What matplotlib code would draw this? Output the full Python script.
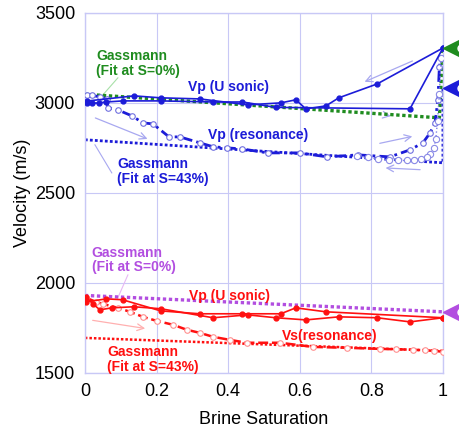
import matplotlib
matplotlib.use("Agg")
import matplotlib.pyplot as plt

plt.rcParams['font.family'] = ['Liberation Sans', 'DejaVu Sans']

BLUE = '#1c1cd8'
GREEN = '#1f8c1f'
PURPLE = '#b24ee0'
RED = '#ff1010'
GRID = '#c8c8f6'

# --- P-wave, ultrasonic (two branches)
vp_us_up_s = [0.005, 0.02, 0.04, 0.06, 0.106, 0.212, 0.358, 0.44, 0.533, 0.908, 1.0]
vp_us_up_v = [3000, 2998, 3000, 3005, 3011, 3011, 3005, 3005, 2975, 2967, 3305]
vp_us_dn_s = [1.0, 0.816, 0.709, 0.673, 0.617, 0.589, 0.547, 0.455, 0.321, 0.212, 0.137, 0.005]
vp_us_dn_v = [3305, 3105, 3028, 2983, 2967, 3017, 3000, 2989, 3022, 3028, 3039, 3010]

# --- P-wave, resonance
vp_res_up_s = [0.006, 0.02, 0.042, 0.061, 0.064, 0.092, 0.131, 0.162, 0.19, 0.235, 0.265,
               0.321, 0.358, 0.397, 0.439, 0.511, 0.6, 0.676, 0.763, 0.852, 0.908,
               0.944, 0.964, 0.978, 0.986, 0.99, 0.995]
vp_res_up_v = [3045, 3042, 3033, 3022, 2972, 2961, 2928, 2889, 2883, 2811, 2811,
               2778, 2756, 2750, 2744, 2722, 2722, 2700, 2711, 2700, 2739,
               2778, 2833, 2889, 3017, 3200, 3250]
vp_res_dn_s = [0.995, 0.99, 0.985, 0.98, 0.975, 0.965, 0.955, 0.94, 0.92, 0.9, 0.875,
               0.85, 0.82, 0.79, 0.76]
vp_res_dn_v = [3250, 3050, 2900, 2800, 2750, 2715, 2700, 2690, 2683, 2680, 2680,
               2682, 2688, 2697, 2706]

# --- Gassmann P-wave
gas_vp0_s = [0.0, 0.99, 1.0]
gas_vp0_v = [3048, 2917, 3305]
gas_vp43_s = [0.0, 1.0, 1.0]
gas_vp43_v = [2795, 2667, 3083]

# --- lower set (red)
red_us_up_s = [0.003, 0.022, 0.042, 0.075, 0.137, 0.212, 0.358, 0.455, 0.533, 0.617,
               0.709, 0.816, 0.908, 1.0]
red_us_up_v = [1922, 1883, 1850, 1861, 1867, 1856, 1806, 1822, 1806, 1794,
               1811, 1806, 1783, 1806]
red_us_dn_s = [1.0, 0.673, 0.589, 0.547, 0.439, 0.321, 0.212, 0.105, 0.06, 0.003]
red_us_dn_v = [1806, 1839, 1861, 1828, 1828, 1828, 1844, 1906, 1911, 1894]

vs_res_s = [0.003, 0.03, 0.05, 0.092, 0.126, 0.162, 0.2, 0.246, 0.285, 0.321, 0.358,
            0.405, 0.452, 0.545, 0.637, 0.732, 0.824, 0.87, 0.916, 0.95, 0.975, 1.0]
vs_res_v = [1917, 1895, 1883, 1861, 1839, 1811, 1789, 1767, 1739, 1722, 1700,
            1683, 1667, 1667, 1644, 1639, 1633, 1631, 1628, 1625, 1622, 1617]

gas_vs0_s = [0.0, 1.0]
gas_vs0_v = [1930, 1839]
gas_vs43_s = [0.0, 1.0]
gas_vs43_v = [1694, 1622]

fig = plt.figure(figsize=(4.59, 4.30), dpi=100)
ax = fig.add_axes([0.185, 0.133, 0.780, 0.837])

# Gassmann lines (thick dotted)
ax.plot(gas_vp0_s, gas_vp0_v, color=GREEN, lw=2.4, ls=(0, (1, 0.8)), zorder=2)
ax.plot(gas_vp43_s, gas_vp43_v, color=BLUE, lw=2.0, ls=(0, (1, 0.8)), zorder=2)
ax.plot(gas_vs0_s, gas_vs0_v, color=PURPLE, lw=2.4, ls=(0, (1, 0.8)), zorder=2)
ax.plot(gas_vs43_s, gas_vs43_v, color=RED, lw=1.8, ls=(0, (1, 0.8)), zorder=2)

# ultrasonic
for s, v in [(vp_us_up_s, vp_us_up_v), (vp_us_dn_s, vp_us_dn_v)]:
    ax.plot(s, v, color=BLUE, lw=1.2, marker='o', ms=3.5, zorder=4)
for s, v in [(red_us_up_s, red_us_up_v), (red_us_dn_s, red_us_dn_v)]:
    ax.plot(s, v, color=RED, lw=1.2, marker='o', ms=3.5, zorder=4)

# resonance
ax.plot(vp_res_up_s, vp_res_up_v, color=BLUE, lw=2.0, ls=(0, (4, 1.5, 1, 1.5)),
        marker='o', ms=4, mfc='white', mec='#7070e0', mew=0.8, zorder=3)
ax.plot(vp_res_dn_s, vp_res_dn_v, color='#8080e8', lw=1.0, ls=':',
        marker='o', ms=4.5, mfc='white', mec='#8a8ae6', mew=0.8, zorder=3)
ax.plot(vs_res_s, vs_res_v, color=RED, lw=1.8, ls=(0, (4, 1.5)),
        marker='o', ms=4, mfc='white', mec='#ff9090', mew=0.8, zorder=3)

# arrows
arr = dict(arrowstyle='->', lw=0.9, mutation_scale=12)
for (x0, y0, x1, y1) in [(0.922, 3239, 0.774, 3111), (0.816, 2772, 0.922, 2817),
                         (0.944, 2628, 0.832, 2639), (0.022, 2922, 0.182, 2794),
                         (0.832, 2934, 0.862, 2924)]:
    ax.annotate('', xy=(x1, y1), xytext=(x0, y0),
                arrowprops=dict(arr, color='#a8a8f0'), zorder=1)
ax.annotate('', xy=(0.176, 1744), xytext=(0.014, 1794),
            arrowprops=dict(arr, color='#ffb0b0'), zorder=1)

# leader lines
ax.plot([0.05, 0.092], [3044, 3139], color='#a8e0a8', lw=0.8, zorder=1)
ax.plot([0.028, 0.075], [2767, 2611], color='#a8a8f0', lw=0.8, zorder=1)
ax.plot([0.092, 0.12], [1917, 2044], color='#e6b8f4', lw=0.8, zorder=1)

# side markers (cut off by the figure edge)
for y, c in [(3305, GREEN), (3083, BLUE), (1839, PURPLE)]:
    ax.plot([1.045], [y], marker='<', ms=23, color=c, clip_on=False, zorder=6)
    ax.plot([1.05], [y], marker='o', ms=5, mfc='white', mec='white',
            clip_on=False, zorder=7)

# labels
tk = dict(fontsize=10, fontweight='bold', va='center')
ax.text(0.031, 3220, 'Gassmann\n(Fit at S=0%)', color=GREEN, ha='left', linespacing=1.05, **tk)
ax.text(0.40, 3089, 'Vp (U sonic)', color=BLUE, ha='center', **tk)
ax.text(0.484, 2822, 'Vp (resonance)', color=BLUE, ha='center', **tk)
ax.text(0.090, 2620, 'Gassmann\n(Fit at S=43%)', color=BLUE, ha='left', linespacing=1.05, **tk)
ax.text(0.019, 2128, 'Gassmann\n(Fit at S=0%)', color=PURPLE, ha='left', linespacing=1.05, **tk)
ax.text(0.405, 1925, 'Vp (U sonic)', color=RED, ha='center', **tk)
ax.text(0.685, 1706, 'Vs(resonance)', color=RED, ha='center', **tk)
ax.text(0.062, 1575, 'Gassmann\n(Fit at S=43%)', color=RED, ha='left', linespacing=1.05, **tk)

ax.set_xlim(0, 1)
ax.set_ylim(1500, 3500)
ax.set_xticks([0, 0.2, 0.4, 0.6, 0.8, 1.0])
ax.set_xticklabels(['0', '0.2', '0.4', '0.6', '0.8', '1'])
ax.set_yticks([1500, 2000, 2500, 3000, 3500])
ax.tick_params(length=0, labelsize=13, pad=7)
ax.grid(True, color=GRID, lw=0.8)
ax.set_axisbelow(True)
for sp in ax.spines.values():
    sp.set_color(GRID)
    sp.set_linewidth(1.0)
ax.set_xlabel('Brine Saturation', fontsize=13, labelpad=8)
ax.set_ylabel('Velocity (m/s)', fontsize=13, labelpad=3)

fig.savefig('out.png', dpi=100)
